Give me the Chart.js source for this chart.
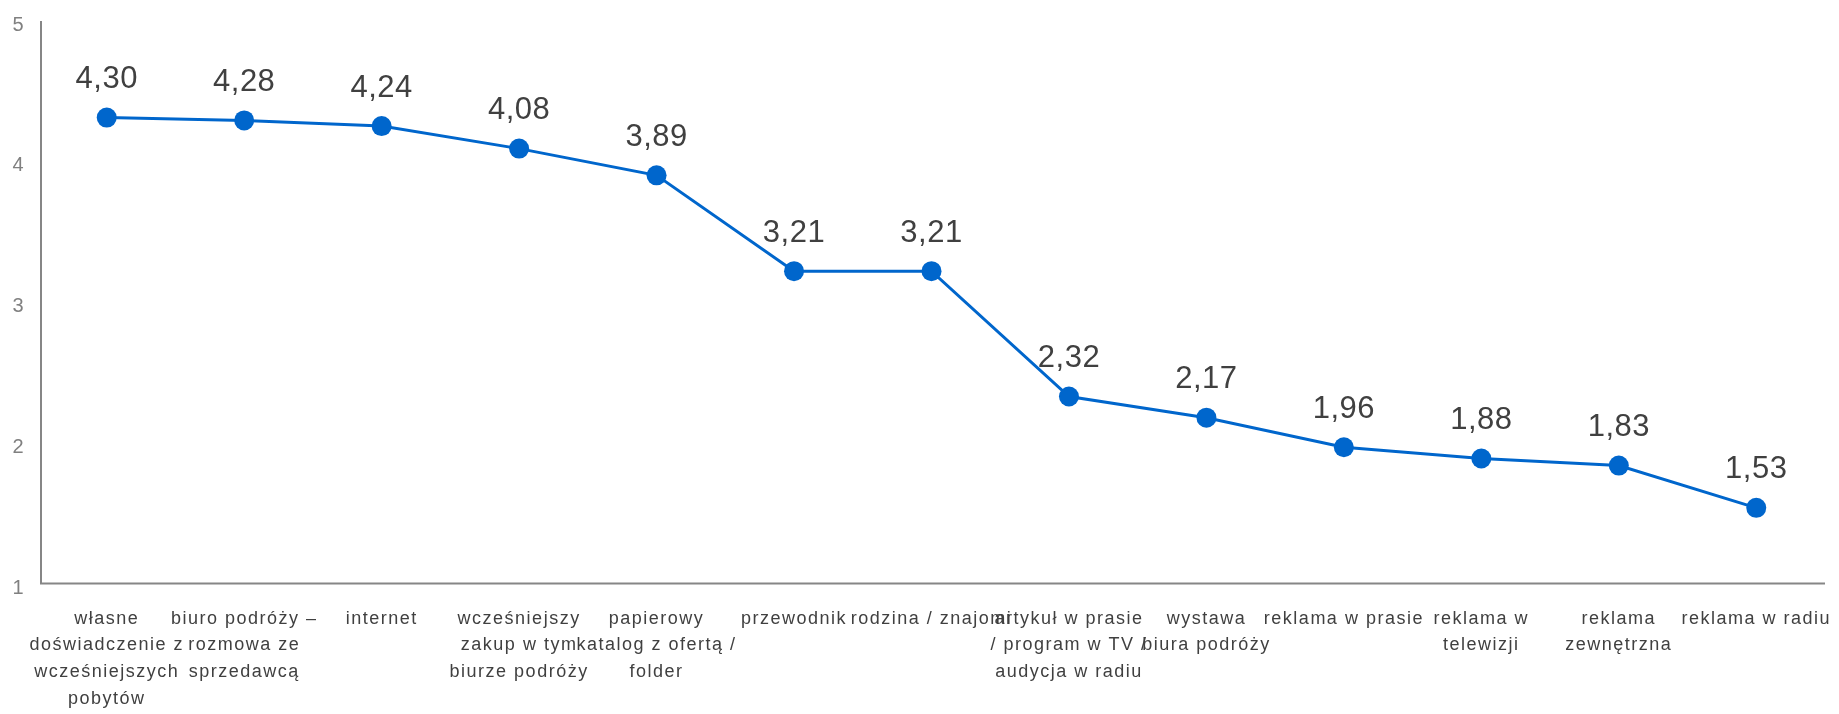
<!DOCTYPE html>
<html>
<head>
<meta charset="utf-8">
<script src="https://cdn.jsdelivr.net/npm/chart.js@4.4.1/dist/chart.umd.min.js"></script>
<style>
  html, body { margin: 0; padding: 0; background: #ffffff; }
  #wrap { width: 1839px; height: 714px; position: relative; }
</style>
</head>
<body>
<div id="wrap"><canvas id="c" width="1839" height="714"></canvas></div>
<script>
const categories = [
  ["własne", "doświadczenie z", "wcześniejszych", "pobytów"],
  ["biuro podróży –", "rozmowa ze", "sprzedawcą"],
  ["internet"],
  ["wcześniejszy", "zakup w tym", "biurze podróży"],
  ["papierowy", "katalog z ofertą /", "folder"],
  ["przewodnik"],
  ["rodzina / znajomi"],
  ["artykuł w prasie", "/ program w TV /", "audycja w radiu"],
  ["wystawa", "biura podróży"],
  ["reklama w prasie"],
  ["reklama w", "telewizji"],
  ["reklama", "zewnętrzna"],
  ["reklama w radiu"]
];
const values = [4.30, 4.28, 4.24, 4.08, 3.89, 3.21, 3.21, 2.32, 2.17, 1.96, 1.88, 1.83, 1.53];
const yTicks = [1, 2, 3, 4, 5];

const FONT = '"Liberation Sans", Arial, sans-serif';

const spacing = {
  id: 'spacing',
  beforeLayout(chart) { chart.ctx.letterSpacing = '1.5px'; },
  beforeDraw(chart) { chart.ctx.letterSpacing = '1.5px'; }
};

const axisLines = {
  id: 'axisLines',
  afterDraw(chart) {
    const ctx = chart.ctx;
    const a = chart.chartArea;
    ctx.save();
    ctx.strokeStyle = '#868686';
    ctx.lineWidth = 2;
    ctx.beginPath();
    ctx.moveTo(41, a.top + 2);
    ctx.lineTo(41, a.bottom + 1);
    ctx.lineTo(a.right, a.bottom + 1);
    ctx.stroke();
    ctx.restore();
  }
};

const valueLabels = {
  id: 'valueLabels',
  afterDatasetsDraw(chart) {
    const ctx = chart.ctx;
    const meta = chart.getDatasetMeta(0);
    ctx.save();
    ctx.letterSpacing = '0.5px';
    ctx.font = '31px ' + FONT;
    ctx.fillStyle = '#404040';
    ctx.textAlign = 'center';
    ctx.textBaseline = 'middle';
    meta.data.forEach((pt, i) => {
      const v = chart.data.datasets[0].data[i];
      ctx.fillText(v.toFixed(2).replace('.', ','), pt.x, pt.y - 38);
    });
    ctx.restore();
  }
};

new Chart(document.getElementById('c'), {
  type: 'line',
  data: {
    labels: categories,
    datasets: [{
      data: values,
      borderColor: '#0066CC',
      backgroundColor: '#0066CC',
      borderWidth: 3,
      pointRadius: 10,
      pointBackgroundColor: '#0066CC',
      pointBorderColor: '#0066CC',
      pointBorderWidth: 0,
      tension: 0,
      fill: false
    }]
  },
  options: {
    responsive: false,
    animation: false,
    devicePixelRatio: 1,
    layout: { padding: { top: 19, right: 14, left: 0, bottom: 0 } },
    plugins: { legend: { display: false }, tooltip: { enabled: false } },
    scales: {
      x: {
        offset: true,
        grid: { display: false, drawTicks: false },
        border: { display: false },
        ticks: {
          autoSkip: false,
          maxRotation: 0,
          minRotation: 0,
          padding: 23,
          color: '#404040',
          font: { family: FONT, size: 18, lineHeight: 1.48 }
        },
        afterFit(scale) { scale.height = 131.5; scale.paddingLeft = 0; scale.paddingRight = 0; }
      },
      y: {
        min: 1,
        max: 5,
        afterBuildTicks(scale) { scale.ticks = yTicks.map(v => ({ value: v })); },
        grid: { display: false, drawTicks: false },
        border: { display: false },
        ticks: {
          padding: 13,
          labelOffset: 6,
          color: '#808080',
          font: { family: FONT, size: 20 }
        },
        afterFit(scale) { scale.width = 38; scale.paddingTop = 0; scale.paddingBottom = 0; }
      }
    }
  },
  plugins: [spacing, valueLabels, axisLines]
});
</script>
</body>
</html>
